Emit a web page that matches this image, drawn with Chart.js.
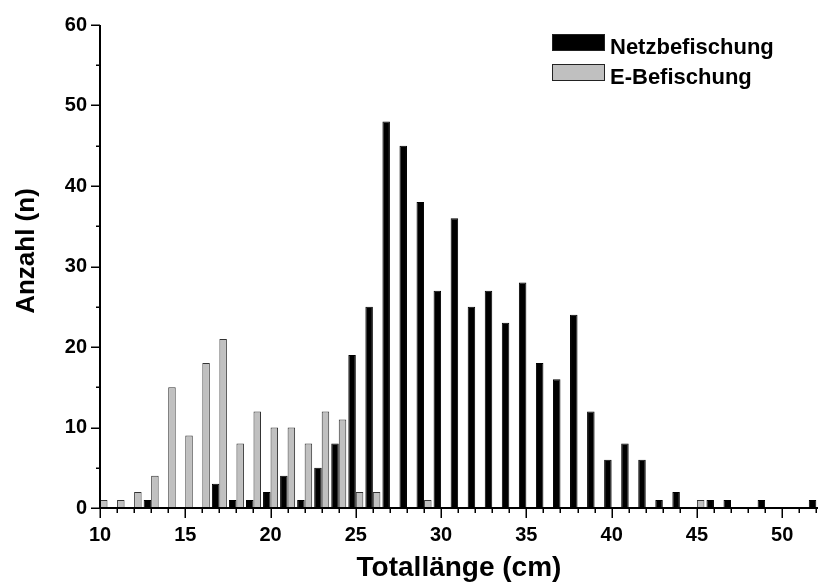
<!DOCTYPE html>
<html>
<head>
<meta charset="utf-8">
<script src="https://cdn.jsdelivr.net/npm/chart.js@4.4.1/dist/chart.umd.min.js"></script>
<style>
	html, body { margin: 0; padding: 0; background: #fff; }
	#wrap { width: 820px; height: 584px; }
</style>
</head>
<body>
<div id="wrap"><canvas id="fish"></canvas></div>
<script>
// Length classes in cm
const lengths = [10, 11, 12, 13, 14, 15, 16, 17, 18, 19, 20, 21, 22, 23, 24, 25, 26, 27, 28, 29, 30,
	31, 32, 33, 34, 35, 36, 37, 38, 39, 40, 41, 42, 43, 44, 45, 46, 47, 48, 49, 50, 51, 52];
// Counts per length class
const netzCounts = [0, 0, 0, 1, 0, 0, 0, 3, 1, 1, 2, 4, 1, 5, 8, 19, 25, 48, 45, 38, 27,
	36, 25, 27, 23, 28, 18, 16, 24, 12, 6, 8, 6, 1, 2, 0, 1, 1, 0, 1, 0, 0, 1];
const eCounts = [1, 1, 2, 4, 15, 9, 18, 21, 8, 12, 10, 10, 8, 12, 11, 2, 2, 0, 0, 1, 0,
	0, 0, 0, 0, 0, 0, 0, 0, 0, 0, 0, 0, 0, 0, 1, 0, 0, 0, 0, 0, 0, 0];
const seriesNames = ['Netzbefischung', 'E-Befischung'];
const xTickLabels = [10, 15, 20, 25, 30, 35, 40, 45, 50];
const yTickLabels = [0, 10, 20, 30, 40, 50, 60];

const FONT = "'Liberation Sans', Arial, sans-serif";
const GREY = '#c0c0c0';

// turn counts into points, empty classes get no bar
function toPoints(counts) {
	return lengths.map((len, i) => ({ x: len, y: counts[i] ? counts[i] : null }));
}

// Axis lines, long/short ticks, x labels, titles and legend
const axesPlugin = {
	id: 'axesPlugin',
	afterDatasetsDraw(chart) {
		const { ctx, chartArea, scales } = chart;
		const xs = scales.x;
		const ys = scales.y;
		ctx.save();
		ctx.strokeStyle = '#000';
		ctx.lineWidth = 2;
		ctx.beginPath();
		ctx.moveTo(chartArea.left, chartArea.top);
		ctx.lineTo(chartArea.left, chartArea.bottom);
		ctx.lineTo(chartArea.right, chartArea.bottom);
		ctx.stroke();

		ctx.lineWidth = 1.5;
		ctx.beginPath();
		for (let v = lengths[0]; v <= lengths[lengths.length - 1]; v++) {
			const px = Math.round(xs.getPixelForValue(v)) + 0.25;
			const len = v % 5 === 0 ? 10 : 5;
			ctx.moveTo(px, chartArea.bottom);
			ctx.lineTo(px, chartArea.bottom + len);
		}
		for (let v = 0; v <= yTickLabels[yTickLabels.length - 1]; v += 5) {
			const py = Math.round(ys.getPixelForValue(v)) + 0.25;
			const len = v % 10 === 0 ? 9 : 4;
			ctx.moveTo(chartArea.left, py);
			ctx.lineTo(chartArea.left - len, py);
		}
		ctx.stroke();

		// x tick labels
		ctx.fillStyle = '#000';
		ctx.font = 'bold 20px ' + FONT;
		ctx.textAlign = 'center';
		ctx.textBaseline = 'alphabetic';
		xTickLabels.forEach((v) => {
			ctx.fillText(String(v), xs.getPixelForValue(v), chartArea.bottom + 33);
		});

		// axis titles
		ctx.font = 'bold 28px ' + FONT;
		ctx.fillText('Totallänge (cm)', 459, 576);
		ctx.save();
		ctx.translate(27, 251);
		ctx.rotate(-Math.PI / 2);
		ctx.textBaseline = 'middle';
		ctx.font = 'bold 26px ' + FONT;
		ctx.fillText('Anzahl (n)', 0, 0);
		ctx.restore();

		// legend
		ctx.font = 'bold 22px ' + FONT;
		ctx.textAlign = 'left';
		ctx.lineWidth = 1;
		chart.data.datasets.forEach((ds, i) => {
			const top = 34 + i * 30;
			ctx.fillStyle = ds.backgroundColor;
			ctx.fillRect(552, top, 53, 17);
			ctx.strokeStyle = '#222';
			ctx.strokeRect(552.5, top + 0.5, 52, 16);
			ctx.fillStyle = '#000';
			ctx.fillText(ds.label, 610, top + 19.5);
		});
		ctx.restore();
	},
};

let ctxFish = document.getElementById('fish').getContext('2d');
let fishChart = new Chart(ctxFish, {
	type: 'bar',
	data: {
		datasets: [
			{
				label: seriesNames[0],
				data: toPoints(netzCounts),
				backgroundColor: '#000',
				borderColor: '#000',
				borderWidth: 1,
				clip: false,
			},
			{
				label: seriesNames[1],
				data: toPoints(eCounts),
				backgroundColor: GREY,
				borderColor: '#333',
				borderWidth: 1,
				clip: false,
			},
		],
	},
	options: {
		responsive: true,
		maintainAspectRatio: false,
		animation: false,
		layout: { padding: { top: 24, right: 2, left: 0, bottom: 0 } },
		datasets: { bar: { categoryPercentage: 0.88, barPercentage: 1, borderSkipped: 'start' } },
		plugins: { legend: { display: false }, tooltip: { enabled: false } },
		scales: {
			x: {
				type: 'linear',
				offset: false,
				min: 10,
				max: 52.1,
				grid: { display: false, drawTicks: false, offset: false },
				border: { display: false },
				afterFit: (scale) => { scale.height = 76; },
				ticks: { display: false, stepSize: 1 },
			},
			y: {
				min: 0,
				max: 60,
				grid: { display: false, drawTicks: false },
				border: { display: false },
				afterFit: (scale) => { scale.width = 100; },
				ticks: {
					stepSize: 10,
					padding: 13,
					color: '#000',
					font: { family: FONT, size: 20, weight: 'bold' },
					callback: (v) => (yTickLabels.includes(v) ? String(v) : ''),
				},
			},
		},
	},
	plugins: [axesPlugin],
});
</script>
</body>
</html>
